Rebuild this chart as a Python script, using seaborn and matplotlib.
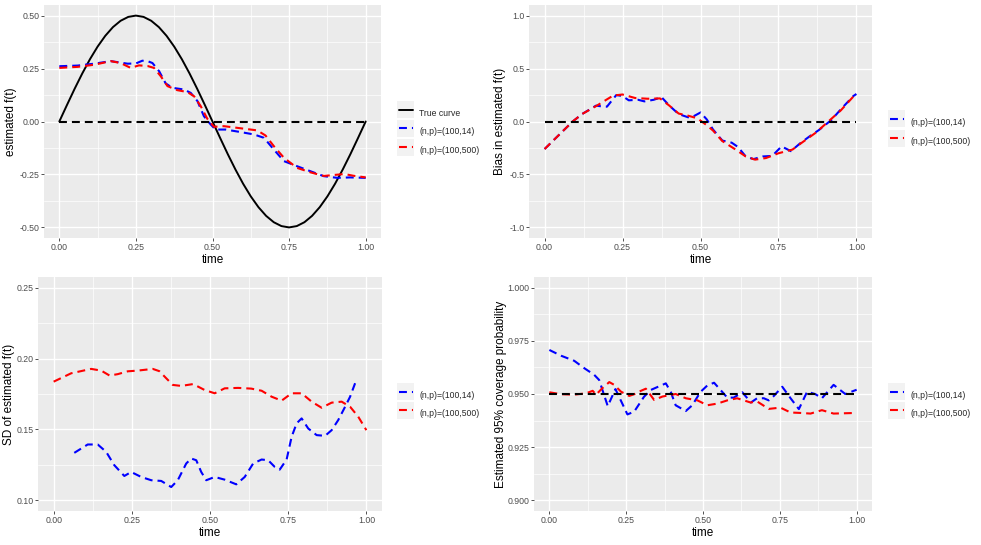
import numpy as np
import pandas as pd
import matplotlib
matplotlib.use("Agg")
import matplotlib.pyplot as plt
import seaborn as sns
from matplotlib.ticker import FixedLocator, FormatStrFormatter
from matplotlib.patches import Rectangle
from matplotlib.transforms import IdentityTransform

# ---------------- data ----------------
# True curve (panel 1)
true_t = [0, 0.025, 0.05, 0.075, 0.1, 0.125, 0.15, 0.175, 0.2, 0.225, 0.25,
          0.275, 0.3, 0.325, 0.35, 0.375, 0.4, 0.425, 0.45, 0.475, 0.5,
          0.525, 0.55, 0.575, 0.6, 0.625, 0.65, 0.675, 0.7, 0.725, 0.75,
          0.775, 0.8, 0.825, 0.85, 0.875, 0.9, 0.925, 0.95, 0.975, 1.0]
true_v = [0, 0.078, 0.1545, 0.227, 0.294, 0.3536, 0.4045, 0.4455, 0.4755, 0.4938, 0.5,
          0.4938, 0.4755, 0.4455, 0.4045, 0.3536, 0.294, 0.227, 0.1545, 0.078, 0,
          -0.078, -0.1545, -0.227, -0.294, -0.3536, -0.4045, -0.4455, -0.4755, -0.4938, -0.5,
          -0.4938, -0.4755, -0.4455, -0.4045, -0.3536, -0.294, -0.227, -0.1545, -0.078, 0]

# Estimated f(t), (n,p)=(100,14)
est14_t = [0, 0.06, 0.114, 0.168, 0.223, 0.25, 0.271, 0.29, 0.304, 0.326, 0.347, 0.369,
           0.407, 0.429, 0.451, 0.472, 0.494, 0.51, 0.543, 0.592, 0.635, 0.668, 0.7,
           0.733, 0.776, 0.82, 0.863, 0.907, 0.95, 1.0]
est14_v = [0.261, 0.264, 0.273, 0.285, 0.273, 0.274, 0.287, 0.284, 0.276, 0.237, 0.18, 0.159,
           0.151, 0.135, 0.096, 0.025, -0.014, -0.038, -0.038, -0.05, -0.061, -0.077, -0.132,
           -0.187, -0.211, -0.235, -0.258, -0.266, -0.264, -0.266]
# Estimated f(t), (n,p)=(100,500)
est500_t = [0, 0.06, 0.114, 0.168, 0.2, 0.233, 0.26, 0.288, 0.309, 0.331, 0.353, 0.385,
            0.418, 0.44, 0.461, 0.483, 0.505, 0.537, 0.603, 0.646, 0.673, 0.7, 0.733,
            0.776, 0.82, 0.863, 0.9, 0.93, 0.96, 1.0]
est500_v = [0.253, 0.258, 0.268, 0.285, 0.276, 0.253, 0.265, 0.262, 0.253, 0.214, 0.167, 0.148,
            0.139, 0.119, 0.074, 0.013, -0.025, -0.022, -0.034, -0.042, -0.066, -0.116, -0.171,
            -0.219, -0.24, -0.257, -0.252, -0.248, -0.256, -0.264]

# Bias
bias14_t = [0, 0.09, 0.12, 0.165, 0.19, 0.2, 0.23, 0.25, 0.27, 0.3, 0.32, 0.35, 0.375, 0.4,
            0.43, 0.46, 0.475, 0.5, 0.52, 0.54, 0.57, 0.6, 0.62, 0.645, 0.67, 0.7, 0.73,
            0.76, 0.79, 0.82, 0.85, 0.88, 0.92, 0.95, 0.99, 1.0]
bias14_v = [-0.26, 0.0, 0.07, 0.15, 0.14, 0.14, 0.25, 0.24, 0.2, 0.205, 0.19, 0.205, 0.23, 0.15,
            0.07, 0.04, 0.045, 0.085, 0.02, -0.075, -0.18, -0.2, -0.24, -0.33, -0.355, -0.33, -0.325,
            -0.235, -0.28, -0.205, -0.14, -0.08, 0.015, 0.115, 0.24, 0.26]
bias500_t = [0, 0.09, 0.12, 0.165, 0.195, 0.22, 0.25, 0.29, 0.33, 0.37, 0.4, 0.43, 0.46, 0.49,
             0.52, 0.54, 0.57, 0.61, 0.645, 0.675, 0.71, 0.75, 0.795, 0.825, 0.87, 0.91, 0.95,
             0.99, 1.0]
bias500_v = [-0.26, 0.0, 0.07, 0.145, 0.2, 0.245, 0.255, 0.222, 0.215, 0.218, 0.15, 0.075, 0.055,
             0.03, -0.035, -0.085, -0.185, -0.26, -0.33, -0.36, -0.345, -0.3, -0.265, -0.2,
             -0.105, 0.0, 0.105, 0.235, 0.26]

# SD
sd14_t = [0.066, 0.109, 0.141, 0.168, 0.194, 0.226, 0.248, 0.28, 0.312, 0.344, 0.376, 0.397,
          0.424, 0.44, 0.456, 0.472, 0.488, 0.515, 0.547, 0.584, 0.611, 0.638, 0.665, 0.686,
          0.707, 0.723, 0.745, 0.761, 0.777, 0.793, 0.814, 0.841, 0.868, 0.889, 0.91, 0.932,
          0.948, 0.964]
sd14_v = [0.1335, 0.1394, 0.1394, 0.1342, 0.1248, 0.1172, 0.120, 0.1165, 0.1142, 0.1137, 0.1094,
          0.1142, 0.126, 0.1295, 0.1283, 0.120, 0.1142, 0.1165, 0.1146, 0.1113, 0.1165, 0.126,
          0.1288, 0.1283, 0.1236, 0.1217, 0.1288, 0.1448, 0.1543, 0.1578, 0.1507, 0.146, 0.1455,
          0.1495, 0.1566, 0.166, 0.1731, 0.1826]
sd500_t = [0, 0.056, 0.12, 0.152, 0.179, 0.205, 0.237, 0.269, 0.317, 0.338, 0.36, 0.381, 0.408,
           0.446, 0.483, 0.515, 0.547, 0.59, 0.632, 0.665, 0.697, 0.729, 0.761, 0.793, 0.825,
           0.857, 0.889, 0.921, 0.948, 0.974, 1.0]
sd500_v = [0.1837, 0.1896, 0.1927, 0.1915, 0.188, 0.189, 0.191, 0.1915, 0.1927, 0.1911, 0.1861,
           0.1814, 0.1807, 0.182, 0.1778, 0.1755, 0.179, 0.1793, 0.1788, 0.1773, 0.1731, 0.1703,
           0.1755, 0.1755, 0.1696, 0.1653, 0.1689, 0.1696, 0.166, 0.159, 0.1495]

# Coverage
cov14_t = [0, 0.038, 0.081, 0.114, 0.146, 0.162, 0.19, 0.215, 0.254, 0.276, 0.308, 0.33, 0.379,
           0.395, 0.411, 0.444, 0.465, 0.492, 0.514, 0.536, 0.557, 0.579, 0.6, 0.628, 0.656,
           0.676, 0.698, 0.714, 0.73, 0.758, 0.785, 0.812, 0.839, 0.866, 0.887, 0.925, 0.963, 1.0]
cov14_v = [0.9707, 0.968, 0.9656, 0.9621, 0.959, 0.9566, 0.9443, 0.9523, 0.9404, 0.9417, 0.9487,
           0.9519, 0.955, 0.951, 0.9447, 0.942, 0.9447, 0.951, 0.954, 0.9553, 0.9519, 0.9483,
           0.9483, 0.9508, 0.946, 0.948, 0.948, 0.947, 0.949, 0.9534, 0.948, 0.9429, 0.9511,
           0.9499, 0.948, 0.9543, 0.950, 0.952]
cov500_t = [0, 0.038, 0.081, 0.119, 0.141, 0.152, 0.173, 0.195, 0.211, 0.233, 0.26, 0.276, 0.298,
            0.314, 0.341, 0.368, 0.411, 0.444, 0.482, 0.514, 0.547, 0.579, 0.611, 0.655, 0.676,
            0.714, 0.752, 0.785, 0.817, 0.85, 0.887, 0.925, 1.0]
cov500_v = [0.9508, 0.9499, 0.9497, 0.9503, 0.9515, 0.9497, 0.9528, 0.9556, 0.9543, 0.9511,
            0.9491, 0.9499, 0.9515, 0.9525, 0.9472, 0.9488, 0.95, 0.948, 0.947, 0.9447, 0.9455,
            0.947, 0.948, 0.946, 0.9465, 0.943, 0.9436, 0.9413, 0.9411, 0.9408, 0.9424, 0.9408,
            0.9411]

# reference lines
ref_t = [0, 1]
zero_v = [0, 0]
nominal_v = [0.95, 0.95]

# labels / ticks
lab14 = "(n,p)=(100,14)"
lab500 = "(n,p)=(100,500)"
lab_true = "True curve"
x_ticks = [0, 0.25, 0.5, 0.75, 1.0]
yt_est = [-0.5, -0.25, 0, 0.25, 0.5]
yt_bias = [-1.0, -0.5, 0, 0.5, 1.0]
yt_sd = [0.10, 0.15, 0.20, 0.25]
yt_cov = [0.900, 0.925, 0.950, 0.975, 1.000]

# ---------------- style ----------------
sns.set_theme(style="darkgrid", rc={
    "axes.facecolor": "#EBEBEB",
    "grid.color": "white",
    "axes.edgecolor": "#EBEBEB",
    "lines.dashed_pattern": [3.8, 2.4],
    "xtick.bottom": True, "ytick.left": True,
    "xtick.major.size": 2.0, "ytick.major.size": 2.0,
    "xtick.major.width": 0.6, "ytick.major.width": 0.6,
    "xtick.color": "#333333", "ytick.color": "#333333",
    "xtick.major.pad": 1.6, "ytick.major.pad": 1.2,
})
plt.rcParams['font.family'] = ['Liberation Sans', 'DejaVu Sans']

W, H = 981, 545
fig = plt.figure(figsize=(W / 100, H / 100), dpi=100)
fig.patch.set_facecolor("white")

BLUE, RED, BLACK = "#0000FF", "#FF0000", "#000000"
LW = 1.5


def panel(x0, x1, y0, y1):
    return fig.add_axes([x0 / W, 1 - y1 / H, (x1 - x0) / W, (y1 - y0) / H])


def style_axes(ax, yticks, ylim, yfmt, ylabel, ylabel_x_px):
    ax.set_xlim(-0.05, 1.05)
    ax.set_ylim(*ylim)
    ax.xaxis.set_major_locator(FixedLocator(x_ticks))
    ax.xaxis.set_minor_locator(FixedLocator([0.125, 0.375, 0.625, 0.875]))
    ax.yaxis.set_major_locator(FixedLocator(yticks))
    step = yticks[1] - yticks[0]
    ax.yaxis.set_minor_locator(FixedLocator([v + step / 2 for v in yticks[:-1]]))
    ax.xaxis.set_major_formatter(FormatStrFormatter("%.2f"))
    ax.yaxis.set_major_formatter(FormatStrFormatter(yfmt))
    ax.grid(which="major", color="white", linewidth=1.0)
    ax.grid(which="minor", color="white", linewidth=0.5)
    ax.tick_params(which="minor", length=0)
    ax.tick_params(which="major", labelsize=6.3, labelcolor="#4D4D4D")
    for s in ax.spines.values():
        s.set_visible(False)
    ax.set_xlabel("time", fontsize=8.5, color="black", labelpad=1.5)
    ax.set_ylabel(ylabel, fontsize=8.5, color="black")
    ax.yaxis.label.set_va("center")
    pos = ax.get_position()
    ax.yaxis.set_label_coords(ylabel_x_px / W, pos.y0 + pos.height / 2,
                              transform=fig.transFigure)
    ax.set_axisbelow(True)


def line(ax, t, v, color, dashed=True, lw=LW):
    df = pd.DataFrame({"time": t, "value": v})
    sns.lineplot(data=df, x="time", y="value", color=color,
                 linestyle="--" if dashed else "-", linewidth=lw,
                 errorbar=None, ax=ax, legend=False)
    return ax.lines[-1]


legends = []


def legend_at(ax, handles, labels, x_px, y_px, spacing):
    leg = ax.legend(handles, labels, loc="center left",
                    bbox_to_anchor=(x_px / W, 1 - y_px / H),
                    bbox_transform=fig.transFigure, frameon=False,
                    fontsize=6.2, handlelength=1.6, handleheight=2.7,
                    handletextpad=0.75, labelspacing=spacing,
                    borderpad=0, borderaxespad=0)
    legends.append(leg)


# Panel 1: estimated f(t)
ax1 = panel(44, 381, 5, 238)
h_true = line(ax1, true_t, true_v, BLACK, dashed=False, lw=1.4)
h14 = line(ax1, est14_t, est14_v, BLUE)
h500 = line(ax1, est500_t, est500_v, RED)
line(ax1, ref_t, zero_v, BLACK)
style_axes(ax1, yt_est, (-0.55, 0.55), "%.2f", "estimated f(t)", 11)
legend_at(ax1, [h_true, h14, h500], [lab_true, lab14, lab500], 399, 131.5, 0.15)

# Panel 2: bias
ax2 = panel(529, 872, 5, 238)
h14 = line(ax2, bias14_t, bias14_v, BLUE)
h500 = line(ax2, bias500_t, bias500_v, RED)
line(ax2, ref_t, zero_v, BLACK)
style_axes(ax2, yt_bias, (-1.1, 1.1), "%.1f", "Bias in estimated f(t)", 500)
legend_at(ax2, [h14, h500], [lab14, lab500], 890, 131.5, 0.22)

# Panel 3: SD
ax3 = panel(38, 382, 277, 511)
h14 = line(ax3, sd14_t, sd14_v, BLUE)
h500 = line(ax3, sd500_t, sd500_v, RED)
style_axes(ax3, yt_sd, (0.0925, 0.2575), "%.2f", "SD of estimated f(t)", 9)
legend_at(ax3, [h14, h500], [lab14, lab500], 399, 404, 0.1)

# Panel 4: coverage
ax4 = panel(534, 872, 277, 511)
h14 = line(ax4, cov14_t, cov14_v, BLUE)
h500 = line(ax4, cov500_t, cov500_v, RED)
line(ax4, ref_t, nominal_v, BLACK)
style_axes(ax4, yt_cov, (0.895, 1.005), "%.3f", "Estimated 95% coverage probability", 501)
legend_at(ax4, [h14, h500], [lab14, lab500], 890, 404, 0.1)

# grey legend key backgrounds (ggplot style)
fig.canvas.draw()
renderer = fig.canvas.get_renderer()
for leg in legends:
    for hnd in leg.legend_handles:
        bb = hnd.get_window_extent(renderer)
        cx = (bb.x0 + bb.x1) / 2
        cy = (bb.y0 + bb.y1) / 2
        fig.patches.append(Rectangle((cx - 8.5, cy - 8.5), 17, 17,
                                     facecolor="#F2F2F2", edgecolor="none",
                                     transform=IdentityTransform(), zorder=-1))

fig.savefig("out.png", dpi=100)
